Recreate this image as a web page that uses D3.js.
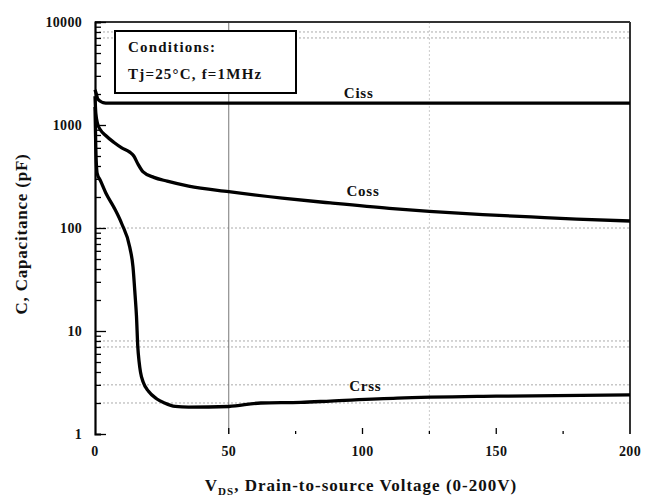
<!DOCTYPE html>
<html>
<head>
<meta charset="utf-8">
<script src="https://cdn.jsdelivr.net/npm/d3@7"></script>
<style>
  html, body { margin: 0; padding: 0; background: #fff; }
  svg { display: block; }
  text { font-family: "Liberation Serif", "DejaVu Serif", serif; font-weight: bold; fill: #111; }
</style>
</head>
<body>
<svg id="chart" width="657" height="497"></svg>
<script>
// ---- data ----
const cissV = [0, 0.5, 1, 2, 3, 5, 50, 100, 150, 200];
const cissC = [2200, 2000, 1800, 1700, 1650, 1630, 1630, 1630, 1630, 1630];

const cossV = [0, 0.3, 1, 2, 4, 7, 10, 13, 14.5, 16, 18, 22, 27, 35, 50, 70, 88, 110, 125, 145, 163, 180, 200];
const cossC = [1900, 1300, 1020, 900, 790, 680, 600, 545, 500, 420, 350, 310, 285, 255, 225, 195, 175, 155, 145, 135, 128, 122, 117];

const crssV = [0, 0.3, 0.8, 2, 4, 7, 10, 13, 14.2, 15, 15.5, 16, 16.5, 17, 18, 20, 23, 26, 30, 35, 50, 62, 77, 88, 113, 150, 200];
const crssC = [1500, 600, 340, 290, 220, 160, 110, 65, 42, 22, 14, 7, 5, 4, 3.2, 2.6, 2.2, 2.0, 1.85, 1.82, 1.85, 2.0, 2.03, 2.09, 2.23, 2.33, 2.4];

const seriesNames = ["Ciss", "Coss", "Crss"];
const labelV = [93, 94, 95];

const xTicks = [0, 50, 100, 150, 200];
const xMinorTicks = [75, 125, 175];
const yTicks = [1, 10, 100, 1000, 10000];
const yTickLabels = ["1", "10", "100", "1000", "10000"];
const hGrid = [2, 3, 7, 8, 100, 7000, 8000];
const vGridSolid = [50];
const vGridDotted = [125];

const legendLines = ["Conditions:", "Tj=25°C, f=1MHz"];
const xTitleMain = "V";
const xTitleSub = "DS";
const xTitleRest = ", Drain-to-source Voltage (0-200V)";
const yTitle = "C, Capacitance (pF)";

// ---- layout ----
const svg = d3.select("#chart");
const pLeft = 95, pRight = 630, pTop = 22, pBottom = 434;

const x = d3.scaleLinear().domain([0, 200]).range([pLeft, pRight]);
const y = d3.scaleLog().domain([1, 10000]).range([pBottom, pTop]);

// gridlines
svg.append("g").selectAll("line").data(hGrid).join("line")
  .attr("x1", pLeft).attr("x2", pRight)
  .attr("y1", d => y(d)).attr("y2", d => y(d))
  .attr("stroke", "#aaa").attr("stroke-width", 1).attr("stroke-dasharray", "2,2");
svg.append("g").selectAll("line").data(vGridDotted).join("line")
  .attr("x1", d => x(d)).attr("x2", d => x(d))
  .attr("y1", pTop).attr("y2", pBottom)
  .attr("stroke", "#ccc").attr("stroke-width", 1).attr("stroke-dasharray", "2,2");
svg.append("g").selectAll("line").data(vGridSolid).join("line")
  .attr("x1", d => x(d)).attr("x2", d => x(d))
  .attr("y1", pTop).attr("y2", pBottom)
  .attr("stroke", "#777").attr("stroke-width", 1);

// frame: top and right border
svg.append("line").attr("x1", pLeft).attr("x2", pRight).attr("y1", pTop).attr("y2", pTop)
  .attr("stroke", "#333").attr("stroke-width", 2);
svg.append("line").attr("x1", pRight).attr("x2", pRight).attr("y1", pTop).attr("y2", pBottom)
  .attr("stroke", "#333").attr("stroke-width", 2);

// left axis (ticks inward)
const yAxis = d3.axisRight(y)
  .tickValues(d3.range(0, 4).flatMap(e => d3.range(1, 10).map(m => m * Math.pow(10, e))).concat([10000]))
  .tickSize(6).tickFormat("");
const gy = svg.append("g").attr("transform", `translate(${pLeft},0)`).call(yAxis);
gy.select(".domain").attr("stroke", "#000").attr("stroke-width", 2.2);
gy.selectAll(".tick line").attr("stroke", "#000").attr("stroke-width", 1.3)
  .attr("x2", d => (Math.abs(Math.log10(d) - Math.round(Math.log10(d))) < 1e-9) ? 11 : 6);

svg.append("g").selectAll("text").data(yTicks).join("text")
  .attr("x", 82).attr("y", d => y(d)).attr("dy", "0.35em")
  .attr("text-anchor", "end").attr("font-size", 14).attr("letter-spacing", 0.3)
  .text((d, i) => yTickLabels[i]);

// bottom ticks (inward, no axis line)
svg.append("g").selectAll("line").data(xTicks.filter(d => d > 0 && d < 200)).join("line")
  .attr("x1", d => x(d)).attr("x2", d => x(d)).attr("y1", pBottom - 6).attr("y2", pBottom)
  .attr("stroke", "#000").attr("stroke-width", 1.3);
svg.append("g").selectAll("line").data(xMinorTicks).join("line")
  .attr("x1", d => x(d)).attr("x2", d => x(d)).attr("y1", pBottom - 3).attr("y2", pBottom)
  .attr("stroke", "#000").attr("stroke-width", 1.3);
svg.append("g").selectAll("text").data(xTicks).join("text")
  .attr("x", d => x(d)).attr("y", 456)
  .attr("text-anchor", "middle").attr("font-size", 14).attr("letter-spacing", 0.3)
  .text(d => d);

// curves
const line = d3.line().x(d => x(d[0])).y(d => y(d[1])).curve(d3.curveMonotoneX);
const series = [
  cissV.map((v, i) => [v, cissC[i]]),
  cossV.map((v, i) => [v, cossC[i]]),
  crssV.map((v, i) => [v, crssC[i]])
];
svg.append("g").selectAll("path").data(series).join("path")
  .attr("d", line).attr("fill", "none").attr("stroke", "#000")
  .attr("stroke-width", 3.3).attr("stroke-linejoin", "round");

// curve labels
const labelOffset = [-5, -8, -9];
svg.append("g").selectAll("text").data(seriesNames).join("text")
  .attr("x", (d, i) => x(labelV[i]))
  .attr("y", (d, i) => {
    const s = series[i];
    const v = labelV[i];
    const idx = d3.bisector(p => p[0]).left(s, v);
    const p0 = s[Math.max(0, idx - 1)], p1 = s[Math.min(s.length - 1, idx)];
    const t = p1[0] === p0[0] ? 0 : (v - p0[0]) / (p1[0] - p0[0]);
    const c = Math.exp(Math.log(p0[1]) + t * (Math.log(p1[1]) - Math.log(p0[1])));
    return y(c) + labelOffset[i];
  })
  .attr("font-size", 15).attr("letter-spacing", 0.8)
  .text(d => d);

// legend box
svg.append("rect").attr("x", 115).attr("y", 31).attr("width", 181).attr("height", 62)
  .attr("fill", "#fff").attr("stroke", "#000").attr("stroke-width", 2);
svg.append("g").selectAll("text").data(legendLines).join("text")
  .attr("x", 128).attr("y", (d, i) => 52 + i * 27)
  .attr("font-size", 15).attr("letter-spacing", 1.2)
  .text(d => d);

// x title
const xt = svg.append("text").attr("x", 361).attr("y", 491)
  .attr("text-anchor", "middle").attr("font-size", 17).attr("letter-spacing", 1);
xt.append("tspan").text(xTitleMain);
xt.append("tspan").attr("font-size", 11).attr("dy", 4).text(xTitleSub);
xt.append("tspan").attr("dy", -4).text(xTitleRest);

// y title
svg.append("text")
  .attr("transform", `translate(27,${(pTop + pBottom) / 2 + 6}) rotate(-90)`)
  .attr("text-anchor", "middle").attr("font-size", 17).attr("letter-spacing", 0.8)
  .text(yTitle);
</script>
</body>
</html>
